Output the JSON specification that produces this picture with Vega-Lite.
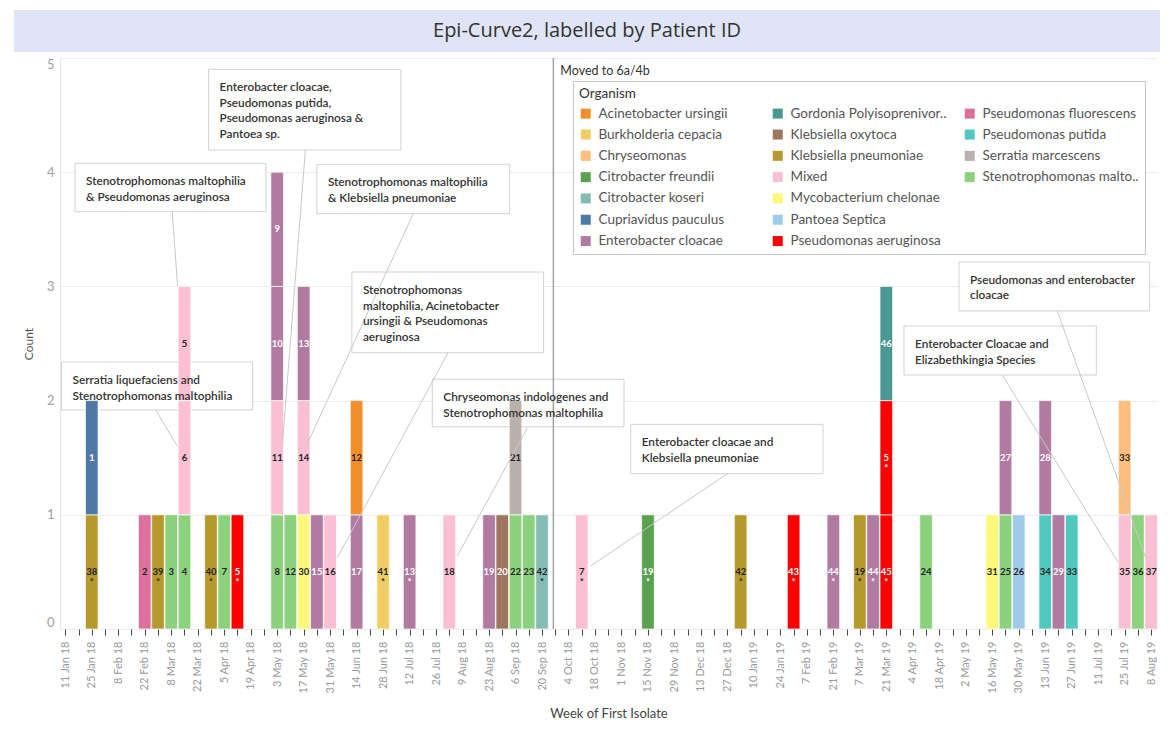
{
  "$schema": "https://vega.github.io/schema/vega-lite/v6.json",
  "padding": {"left": 14, "top": 10, "right": 4, "bottom": 0},
  "background": "white",
  "config": {
    "font": "Lato",
    "view": {"stroke": null},
    "concat": {"spacing": 5},
    "axisX": {
      "labelAngle": 270,
      "labelAlign": "right",
      "labelBaseline": "middle",
      "labelFontSize": 11,
      "labelColor": "#9a9a9a",
      "labelPadding": 6,
      "labelOverlap": false,
      "labelFlush": false,
      "ticks": true,
      "tickSize": 6,
      "tickColor": "#444444",
      "tickWidth": 1,
      "tickOpacity": 1,
      "domain": false,
      "grid": false,
      "titleFontSize": 13,
      "titleColor": "#444444",
      "titleFontWeight": "normal",
      "titlePadding": 14
    },
    "axisY": {
      "labelFlush": true,
      "labelColor": "#a0a0a0",
      "labelFontSize": 13,
      "labelPadding": 6,
      "ticks": false,
      "tickSize": 0,
      "domain": true,
      "domainColor": "#e6e6e6",
      "grid": true,
      "gridColor": "#ececec",
      "titleFontSize": 12,
      "titleColor": "#555555",
      "titleFontWeight": "normal",
      "titlePadding": 11
    }
  },
  "datasets": {
    "cases": [
      {"week": "2018-01-25", "org": "Klebsiella pneumoniae", "pid": "38\n*", "seg": 1},
      {"week": "2018-01-25", "org": "Cupriavidus pauculus", "pid": "1", "seg": 2},
      {"week": "2018-02-22", "org": "Pseudomonas fluorescens", "pid": "2", "seg": 1},
      {"week": "2018-03-01", "org": "Klebsiella pneumoniae", "pid": "39\n*", "seg": 1},
      {"week": "2018-03-08", "org": "Stenotrophomonas malto..", "pid": "3", "seg": 1},
      {"week": "2018-03-15", "org": "Stenotrophomonas malto..", "pid": "4", "seg": 1},
      {"week": "2018-03-15", "org": "Mixed", "pid": "6", "seg": 2},
      {"week": "2018-03-15", "org": "Mixed", "pid": "5", "seg": 3},
      {"week": "2018-03-29", "org": "Klebsiella pneumoniae", "pid": "40\n*", "seg": 1},
      {"week": "2018-04-05", "org": "Stenotrophomonas malto..", "pid": "7", "seg": 1},
      {"week": "2018-04-12", "org": "Pseudomonas aeruginosa", "pid": "5\n*", "seg": 1},
      {"week": "2018-05-03", "org": "Stenotrophomonas malto..", "pid": "8", "seg": 1},
      {"week": "2018-05-03", "org": "Mixed", "pid": "11", "seg": 2},
      {"week": "2018-05-03", "org": "Enterobacter cloacae", "pid": "10", "seg": 3},
      {"week": "2018-05-03", "org": "Enterobacter cloacae", "pid": "9", "seg": 4},
      {"week": "2018-05-10", "org": "Stenotrophomonas malto..", "pid": "12", "seg": 1},
      {"week": "2018-05-17", "org": "Mycobacterium chelonae", "pid": "30", "seg": 1},
      {"week": "2018-05-17", "org": "Mixed", "pid": "14", "seg": 2},
      {"week": "2018-05-17", "org": "Enterobacter cloacae", "pid": "13", "seg": 3},
      {"week": "2018-05-24", "org": "Enterobacter cloacae", "pid": "15", "seg": 1},
      {"week": "2018-05-31", "org": "Mixed", "pid": "16", "seg": 1},
      {"week": "2018-06-14", "org": "Enterobacter cloacae", "pid": "17", "seg": 1},
      {"week": "2018-06-14", "org": "Acinetobacter ursingii", "pid": "12", "seg": 2},
      {"week": "2018-06-28", "org": "Burkholderia cepacia", "pid": "41\n*", "seg": 1},
      {"week": "2018-07-12", "org": "Enterobacter cloacae", "pid": "13\n*", "seg": 1},
      {"week": "2018-08-02", "org": "Mixed", "pid": "18", "seg": 1},
      {"week": "2018-08-23", "org": "Enterobacter cloacae", "pid": "19", "seg": 1},
      {"week": "2018-08-30", "org": "Klebsiella oxytoca", "pid": "20", "seg": 1},
      {"week": "2018-09-06", "org": "Stenotrophomonas malto..", "pid": "22", "seg": 1},
      {"week": "2018-09-06", "org": "Serratia marcescens", "pid": "21", "seg": 2},
      {"week": "2018-09-13", "org": "Stenotrophomonas malto..", "pid": "23", "seg": 1},
      {"week": "2018-09-20", "org": "Citrobacter koseri", "pid": "42\n*", "seg": 1},
      {"week": "2018-10-11", "org": "Mixed", "pid": "7\n*", "seg": 1},
      {"week": "2018-11-15", "org": "Citrobacter freundii", "pid": "19\n*", "seg": 1},
      {"week": "2019-01-03", "org": "Klebsiella pneumoniae", "pid": "42\n*", "seg": 1},
      {"week": "2019-01-31", "org": "Pseudomonas aeruginosa", "pid": "43\n*", "seg": 1},
      {"week": "2019-02-21", "org": "Enterobacter cloacae", "pid": "44\n*", "seg": 1},
      {"week": "2019-03-07", "org": "Klebsiella pneumoniae", "pid": "19\n*", "seg": 1},
      {"week": "2019-03-14", "org": "Enterobacter cloacae", "pid": "44\n*", "seg": 1},
      {"week": "2019-03-21", "org": "Pseudomonas aeruginosa", "pid": "45\n*", "seg": 1},
      {"week": "2019-03-21", "org": "Pseudomonas aeruginosa", "pid": "5\n*", "seg": 2},
      {"week": "2019-03-21", "org": "Gordonia Polyisoprenivor..", "pid": "46", "seg": 3},
      {"week": "2019-04-11", "org": "Stenotrophomonas malto..", "pid": "24", "seg": 1},
      {"week": "2019-05-16", "org": "Mycobacterium chelonae", "pid": "31", "seg": 1},
      {"week": "2019-05-23", "org": "Stenotrophomonas malto..", "pid": "25", "seg": 1},
      {"week": "2019-05-23", "org": "Enterobacter cloacae", "pid": "27", "seg": 2},
      {"week": "2019-05-30", "org": "Pantoea Septica", "pid": "26", "seg": 1},
      {"week": "2019-06-13", "org": "Pseudomonas putida", "pid": "34", "seg": 1},
      {"week": "2019-06-13", "org": "Enterobacter cloacae", "pid": "28", "seg": 2},
      {"week": "2019-06-20", "org": "Enterobacter cloacae", "pid": "29", "seg": 1},
      {"week": "2019-06-27", "org": "Pseudomonas putida", "pid": "33", "seg": 1},
      {"week": "2019-07-25", "org": "Mixed", "pid": "35", "seg": 1},
      {"week": "2019-07-25", "org": "Chryseomonas", "pid": "33", "seg": 2},
      {"week": "2019-08-01", "org": "Stenotrophomonas malto..", "pid": "36", "seg": 1},
      {"week": "2019-08-08", "org": "Mixed", "pid": "37", "seg": 1}
    ],
    "notes": [
      {"bx1": "2018-03-27T18:00:00Z", "bx2": "2018-07-07T09:00:00Z", "by1": 4.901, "by2": 4.194, "lx1": "2018-05-17T22:00:00Z", "ly1": 4.194, "lx2": "2018-05-05T17:00:00Z", "ly2": 1.602, "txt": "Enterobacter cloacae,\nPseudomonas putida,\nPseudomonas aeruginosa &\nPantoea sp."},
      {"bx1": "2018-01-16T03:00:00Z", "bx2": "2018-04-27T02:00:00Z", "by1": 4.078, "by2": 3.654, "lx1": "2018-03-08T12:00:00Z", "ly1": 3.654, "lx2": "2018-03-11T09:00:00Z", "ly2": 3.004, "txt": "Stenotrophomonas maltophilia\n& Pseudomonas aeruginosa"},
      {"bx1": "2018-05-24T00:00:00Z", "bx2": "2018-09-02T22:00:00Z", "by1": 4.069, "by2": 3.637, "lx1": "2018-07-13T23:00:00Z", "ly1": 3.637, "lx2": "2018-05-18T10:00:00Z", "ly2": 1.602, "txt": "Stenotrophomonas maltophilia\n& Klebsiella pneumoniae"},
      {"bx1": "2018-06-11T12:00:00Z", "bx2": "2018-09-20T20:00:00Z", "by1": 3.126, "by2": 2.419, "lx1": "2018-08-01T07:00:00Z", "ly1": 2.419, "lx2": "2018-06-03T19:00:00Z", "ly2": 0.624, "txt": "Stenotrophomonas\nmaltophilia, Acinetobacter\nursingii & Pseudomonas\naeruginosa"},
      {"bx1": "2018-01-09T00:00:00Z", "bx2": "2018-04-20T00:00:00Z", "by1": 2.338, "by2": 1.918, "lx1": "2018-02-27T19:00:00Z", "ly1": 1.918, "lx2": "2018-03-11T05:00:00Z", "ly2": 1.602, "txt": "Serratia liquefaciens and\nStenotrophomonas maltophilia"},
      {"bx1": "2018-07-24T00:00:00Z", "bx2": "2018-11-02T08:00:00Z", "by1": 2.187, "by2": 1.771, "lx1": "2018-09-12T06:00:00Z", "ly1": 1.763, "lx2": "2018-08-06T05:00:00Z", "ly2": 0.639, "txt": "Chryseomonas indologenes and\nStenotrophomonas maltophilia"},
      {"bx1": "2018-11-05T21:00:00Z", "bx2": "2019-02-15T13:00:00Z", "by1": 1.792, "by2": 1.36, "lx1": "2018-12-26T23:00:00Z", "ly1": 1.36, "lx2": "2018-10-15T18:00:00Z", "ly2": 0.552, "txt": "Enterobacter cloacae and\nKlebsiella pneumoniae"},
      {"bx1": "2019-03-30T08:00:00Z", "bx2": "2019-07-10T00:00:00Z", "by1": 2.653, "by2": 2.224, "lx1": "2019-05-21T07:00:00Z", "ly1": 2.224, "lx2": "2019-07-21T15:00:00Z", "ly2": 0.581, "txt": "Enterobacter Cloacae and\nElizabethkingia Species"},
      {"bx1": "2019-04-28T10:00:00Z", "bx2": "2019-08-07T06:00:00Z", "by1": 3.214, "by2": 2.785, "lx1": "2019-06-19T09:00:00Z", "ly1": 2.785, "lx2": "2019-08-05T03:00:00Z", "ly2": 0.624, "txt": "Pseudomonas and enterobacter\ncloacae"}
    ],
    "refline": [{"d": "2018-09-26", "lab": "Moved to 6a/4b"}],
    "title": [{"t": "Epi-Curve2, labelled by Patient ID"}]
  },
  "vconcat": [
    {
      "width": 1146,
      "height": 42,
      "view": {"fill": "#dfe5f7", "stroke": null},
      "data": {"name": "title"},
      "mark": {"type": "text", "fontSize": 20, "font": "Open Sans", "color": "#333333", "align": "center", "baseline": "middle"},
      "encoding": {
        "text": {"field": "t"},
        "x": {"datum": 0.5, "type": "quantitative", "scale": {"domain": [0, 1]}, "axis": null},
        "y": {"datum": 0.5, "type": "quantitative", "scale": {"domain": [0, 1]}, "axis": null}
      }
    },
    {
      "spacing": 7,
      "hconcat": [
        {
          "width": 1,
          "height": 1,
          "data": {"values": [{"e": ""}]},
          "mark": {"type": "rect", "opacity": 0},
          "encoding": {}
        },
        {
          "width": 1097,
          "height": 571,
          "layer": [
            {
              "data": {"name": "notes"},
              "mark": {"type": "rect", "fill": "white", "stroke": "#d2d2d2", "strokeWidth": 1},
              "encoding": {
                "x": {"field": "bx1", "type": "temporal", "title": "Week of First Isolate"},
                "x2": {"field": "bx2"},
                "y": {"field": "by1", "type": "quantitative", "title": "Count"},
                "y2": {"field": "by2"}
              }
            },
            {
              "data": {"name": "cases"},
              "transform": [
                {"calculate": "1", "as": "one"},
                {"stack": "one", "groupby": ["week"], "sort": [{"field": "seg", "order": "ascending"}], "as": ["y0", "y1"]},
                {"calculate": "(datum.y0 + datum.y1) / 2", "as": "ymid"}
              ],
              "layer": [
                {
                  "mark": {"type": "bar", "width": 12.6, "stroke": "white", "strokeWidth": 0.7},
                  "encoding": {
                    "x": {
                      "field": "week", "type": "temporal", "title": "Week of First Isolate",
                      "scale": {"type": "utc", "domain": [1515387600000, 1565488800000], "nice": false, "padding": 0},
                      "axis": {
                        "values": [1515628800000,1516233600000,1516838400000,1517443200000,1518048000000,1518652800000,1519257600000,1519862400000,1520467200000,1521072000000,1521676800000,1522281600000,1522886400000,1523491200000,1524096000000,1524700800000,1525305600000,1525910400000,1526515200000,1527120000000,1527724800000,1528329600000,1528934400000,1529539200000,1530144000000,1530748800000,1531353600000,1531958400000,1532563200000,1533168000000,1533772800000,1534377600000,1534982400000,1535587200000,1536192000000,1536796800000,1537401600000,1538006400000,1538611200000,1539216000000,1539820800000,1540425600000,1541030400000,1541635200000,1542240000000,1542844800000,1543449600000,1544054400000,1544659200000,1545264000000,1545868800000,1546473600000,1547078400000,1547683200000,1548288000000,1548892800000,1549497600000,1550102400000,1550707200000,1551312000000,1551916800000,1552521600000,1553126400000,1553731200000,1554336000000,1554940800000,1555545600000,1556150400000,1556755200000,1557360000000,1557964800000,1558569600000,1559174400000,1559779200000,1560384000000,1560988800000,1561593600000,1562198400000,1562803200000,1563408000000,1564012800000,1564617600000,1565222400000],
                        "tickCount": 200,
                        "labelExpr": "round((datum.value - 1515628800000) / 604800000) % 2 == 0 ? utcFormat(datum.value, '%-d %b %y') : ''",
                        "labelOverlap": false,
                        "ticks": true,
                        "tickSize": 6
                      }
                    },
                    "y": {
                      "field": "y0", "type": "quantitative", "title": "Count",
                      "scale": {"domain": [0, 5], "nice": false},
                      "axis": {"values": [0, 1, 2, 3, 4, 5], "format": "d"}
                    },
                    "y2": {"field": "y1"},
                    "color": {
                      "field": "org", "type": "nominal", "title": "Organism",
                      "scale": {
                        "domain": ["Acinetobacter ursingii", "Burkholderia cepacia", "Chryseomonas", "Citrobacter freundii", "Citrobacter koseri", "Cupriavidus pauculus", "Enterobacter cloacae", "Gordonia Polyisoprenivor..", "Klebsiella oxytoca", "Klebsiella pneumoniae", "Mixed", "Mycobacterium chelonae", "Pantoea Septica", "Pseudomonas aeruginosa", "Pseudomonas fluorescens", "Pseudomonas putida", "Serratia marcescens", "Stenotrophomonas malto..", " ", "  "],
                        "range": ["#F28E2B", "#F1CE63", "#FFBE7D", "#59A14F", "#86BCB6", "#4E79A7", "#B07AA1", "#499894", "#9D7660", "#B6992D", "#FABFD2", "#FDF87C", "#A0CBE8", "#FF0000", "#DE709C", "#4FC8BE", "#BAB0AC", "#8CD17D", "#FFFFFF", "#FFFFFF"]
                      },
                      "legend": {
                        "orient": "none",
                        "legendX": 559,
                        "legendY": 71,
                        "columns": 3,
                        "gridAlign": "all",
                        "columnPadding": 16,
                        "rowPadding": 6.3,
                        "symbolType": "square",
                        "symbolSize": 100,
                        "symbolStrokeWidth": 0,
                        "labelFontSize": 13.5,
                        "labelColor": "#555555",
                        "labelOffset": 6,
                        "labelLimit": 240,
                        "titleFontSize": 13.5,
                        "titleFontWeight": "normal",
                        "titleColor": "#333333",
                        "titlePadding": 6,
                        "padding": 6,
                        "strokeColor": "#c4c4c4",
                        "fillColor": "white"
                      }
                    }
                  }
                },
                {
                  "mark": {"type": "text", "fontSize": 9.5, "fontWeight": "bold", "baseline": "middle", "align": "center", "lineBreak": "\n", "lineHeight": 10},
                  "encoding": {
                    "x": {"field": "week", "type": "temporal", "title": "Week of First Isolate"},
                    "y": {"field": "ymid", "type": "quantitative", "title": "Count"},
                    "text": {"field": "pid"},
                    "color": {
                      "condition": {"test": "indexof(['Cupriavidus pauculus', 'Enterobacter cloacae', 'Pseudomonas aeruginosa', 'Klebsiella oxytoca', 'Citrobacter freundii', 'Gordonia Polyisoprenivor..'], datum.org) >= 0", "value": "#ffffff"},
                      "value": "#1f1f1f"
                    }
                  }
                }
              ]
            },
            {
              "data": {"name": "refline"},
              "mark": {"type": "rule", "color": "#a3a3a3", "strokeWidth": 1.5},
              "encoding": {
                "x": {"field": "d", "type": "temporal", "title": "Week of First Isolate"}
              }
            },
            {
              "data": {"name": "refline"},
              "mark": {"type": "text", "align": "left", "baseline": "middle", "dx": 7, "fontSize": 12.5, "color": "#333333"},
              "encoding": {
                "x": {"field": "d", "type": "temporal", "title": "Week of First Isolate"},
                "y": {"datum": 4.885, "type": "quantitative", "title": "Count"},
                "text": {"field": "lab"}
              }
            },
            {
              "data": {"name": "notes"},
              "mark": {"type": "rule", "color": "#c8c8c8", "strokeWidth": 1},
              "encoding": {
                "x": {"field": "lx1", "type": "temporal", "title": "Week of First Isolate"},
                "x2": {"field": "lx2"},
                "y": {"field": "ly1", "type": "quantitative", "title": "Count"},
                "y2": {"field": "ly2"}
              }
            },
            {
              "data": {"name": "notes"},
              "mark": {"type": "text", "align": "left", "baseline": "top", "dx": 11, "dy": 13, "fontSize": 11.8, "fontWeight": 600, "color": "#333333", "lineBreak": "\n", "lineHeight": 15.5},
              "encoding": {
                "x": {"field": "bx1", "type": "temporal", "title": "Week of First Isolate"},
                "y": {"field": "by1", "type": "quantitative", "title": "Count"},
                "text": {"field": "txt"}
              }
            }
          ]
        }
      ]
    }
  ]
}
